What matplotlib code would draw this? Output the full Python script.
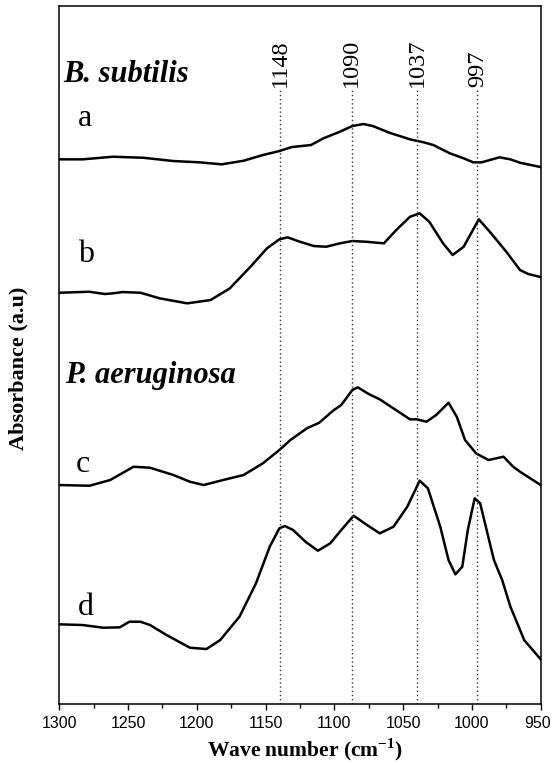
import numpy as np
import matplotlib
matplotlib.use('Agg')
import matplotlib.pyplot as plt
import matplotlib.transforms as mtransforms

plt.rcParams['mathtext.fontset'] = 'custom'
plt.rcParams['mathtext.rm'] = 'Liberation Serif'
plt.rcParams['mathtext.bf'] = 'Liberation Serif:bold'

# spectra (wave number, absorbance offset, a.u.)
wn_a = [1300, 1283, 1261, 1239, 1217, 1198, 1182, 1166, 1152, 1140, 1131, 1117, 1108,
        1096, 1087, 1079, 1072, 1060, 1045, 1035, 1028, 1016, 1006, 999, 993, 980,
        972, 965, 950]
ab_a = [544.7, 544.7, 547.3, 546.3, 543.0, 541.7, 539.7, 543.3, 549.0, 553.0, 557.0,
        559.0, 565.7, 572.3, 578.0, 580.0, 578.0, 571.3, 564.7, 561.7, 559.0, 550.7,
        545.7, 541.7, 541.7, 546.7, 544.7, 541.3, 537.0]

wn_b = [1300, 1278, 1267, 1261, 1254, 1241, 1227, 1207, 1190, 1176, 1161, 1149, 1140,
        1134, 1125, 1115, 1106, 1096, 1087, 1077, 1064, 1055, 1045, 1038, 1031, 1021,
        1014, 1006, 995, 987, 975, 965, 959, 950]
ab_b = [411.3, 412.3, 410.0, 410.7, 412.0, 411.3, 405.7, 400.7, 404.0, 415.7, 437.3,
        455.7, 464.7, 466.7, 462.3, 458.0, 457.3, 460.7, 463.0, 462.3, 460.7, 474.0,
        487.3, 490.7, 482.3, 460.7, 449.0, 457.3, 484.7, 472.3, 452.3, 434.0, 430.0,
        427.0]

wn_c = [1300, 1278, 1263, 1246, 1234, 1217, 1205, 1195, 1181, 1166, 1152, 1140, 1132,
        1120, 1111, 1101, 1095, 1087, 1083, 1075, 1067, 1056, 1045, 1040, 1033, 1026,
        1017, 1011, 1005, 997, 988, 977, 970, 965, 950]
ab_c = [219.0, 218.3, 224.0, 237.3, 236.3, 229.0, 222.3, 219.0, 224.0, 229.0, 240.7,
        254.0, 264.0, 275.7, 281.3, 293.3, 299.0, 314.0, 316.7, 310.0, 304.7, 294.7,
        284.7, 284.7, 282.3, 289.0, 301.3, 287.3, 264.0, 250.7, 244.0, 247.3, 237.3,
        232.3, 219.0]

wn_d = [1300, 1283, 1268, 1256, 1249, 1241, 1234, 1222, 1205, 1193, 1183, 1169, 1157,
        1147, 1140, 1136, 1130, 1121, 1112, 1103, 1095, 1086, 1077, 1067, 1057, 1047,
        1038, 1032, 1023, 1017, 1012, 1007, 1003, 998, 994, 984, 978, 972, 965, 962,
        950]
ab_d = [79.7, 79.0, 76.3, 76.7, 82.3, 82.3, 79.0, 69.0, 56.3, 55.0, 64.0, 87.3, 120.7,
        157.3, 175.7, 178.0, 174.0, 162.3, 153.3, 160.7, 174.0, 188.3, 179.7, 170.7,
        177.3, 197.3, 223.3, 215.7, 177.3, 144.0, 129.7, 137.3, 174.0, 205.7, 200.7,
        144.0, 124.0, 97.3, 74.0, 64.0, 44.7]

band_pos = [1139.5, 1087.5, 1040, 996]
band_labels = ['1148', '1090', '1037', '997']

fig = plt.figure(figsize=(5.52, 7.65), dpi=100)
ax = fig.add_axes([0.1074, 0.0797, 0.8721, 0.9124])

for w, a in [(wn_a, ab_a), (wn_b, ab_b), (wn_c, ab_c), (wn_d, ab_d)]:
    ax.plot(w, a, color='black', lw=1.8, solid_joinstyle='round')

ax.set_xlim(1300, 950)
ax.set_ylim(0, 698)
ax.set_yticks([])
ax.set_xticks(np.arange(1300, 949, -50))
ax.set_xticks(np.arange(1275, 950, -50), minor=True)
ax.tick_params(axis='x', which='major', direction='out', length=4.5, width=1,
               labelsize=11.5, pad=4)
ax.tick_params(axis='x', which='minor', direction='out', length=3, width=1)
for lab in ax.get_xticklabels():
    lab.set_fontfamily('Liberation Sans')
for sp in ax.spines.values():
    sp.set_linewidth(1.1)

# dotted band markers with their labels
for x, lab in zip(band_pos, band_labels):
    ax.plot([x, x], [0, 614], color='#333333', lw=1, ls=(0, (1, 2)))
    ax.text(x, 617, lab, rotation=90, ha='center', va='bottom',
            fontfamily='Liberation Serif', fontsize=17.5)

ax.text(0.0077, 0.8916, 'B. subtilis', transform=ax.transAxes,
        fontfamily='Liberation Serif', fontweight='bold', fontstyle='italic',
        fontsize=22, va='baseline')
ax.text(0.0118, 0.4599, 'P. aeruginosa', transform=ax.transAxes,
        fontfamily='Liberation Serif', fontweight='bold', fontstyle='italic',
        fontsize=22, va='baseline')
for lab, xf, yf in [('a', 0.0388, 0.828), ('b', 0.0388, 0.6337),
                    ('c', 0.0347, 0.3328), ('d', 0.0388, 0.1275)]:
    ax.text(xf, yf, lab, transform=ax.transAxes, fontfamily='Liberation Serif',
            fontsize=23, va='baseline')

fig.text(18 / 552, 1 - 368 / 765, 'Absorbance (a.u)', rotation=90,
         ha='center', va='center', fontfamily='Liberation Serif',
         fontweight='bold', fontsize=16)
fig.text(305 / 552, 1 - 756 / 765, r'Wave number (cm$^{\mathbf{-1}}$)',
         ha='center', va='baseline', fontfamily='Liberation Serif',
         fontweight='bold', fontsize=15.5)

# nudge the last tick label so it stays inside the picture
fig.canvas.draw()
last = ax.xaxis.get_major_ticks()[-1].label1
last.set_transform(last.get_transform() +
                   mtransforms.ScaledTranslation(-2.5 / 72, 0, fig.dpi_scale_trans))

fig.savefig('out.png', dpi=100)
